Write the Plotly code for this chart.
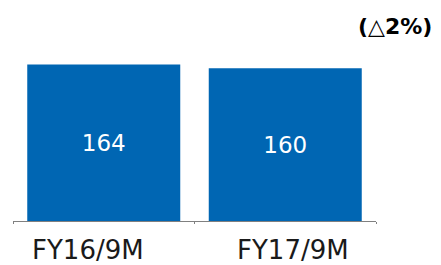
import plotly.graph_objects as go

categories = ["FY16/9M", "FY17/9M"]
values = [164, 160]
value_labels = ["164", "160"]
change_label = "(△2%)"

FONT = "Verdana, DejaVu Sans, sans-serif"

fig = go.Figure()
fig.add_trace(go.Bar(
    x=categories,
    y=values,
    text=value_labels,
    textposition="inside",
    insidetextanchor="middle",
    textfont=dict(color="white", size=23, family=FONT),
    marker=dict(color="#0066B3", line=dict(width=0)),
    width=0.843,
    hoverinfo="skip",
))

# category labels (placed as in the reference, slightly offset from bar centres)
label_x = [0.2066, 0.7727]
for cat, lx in zip(categories, label_x):
    fig.add_annotation(
        text=cat, xref="paper", yref="paper",
        x=lx, y=-0.1518, xanchor="center", yanchor="middle",
        showarrow=False,
        font=dict(size=26, color="#1a1a1a", family=FONT),
    )

fig.add_annotation(
    text="<b>" + change_label + "</b>",
    xref="paper", yref="paper",
    x=1.157, y=1.016,
    xanchor="right", yanchor="middle",
    showarrow=False, borderpad=0,
    font=dict(size=22, color="black", family=FONT),
)

fig.update_layout(
    width=433, height=257,
    margin=dict(l=5, r=65, t=22, b=44, autoexpand=False),
    paper_bgcolor="white",
    plot_bgcolor="white",
    showlegend=False,
    xaxis=dict(
        showline=True, linecolor="#808080", linewidth=1,
        ticks="outside", tickson="boundaries", ticklen=2, tickcolor="#808080",
        showticklabels=False,
        showgrid=False, zeroline=False,
    ),
    yaxis=dict(
        range=[0, 200], visible=False, showgrid=False, zeroline=False,
    ),
)

fig.write_html("out.html")
